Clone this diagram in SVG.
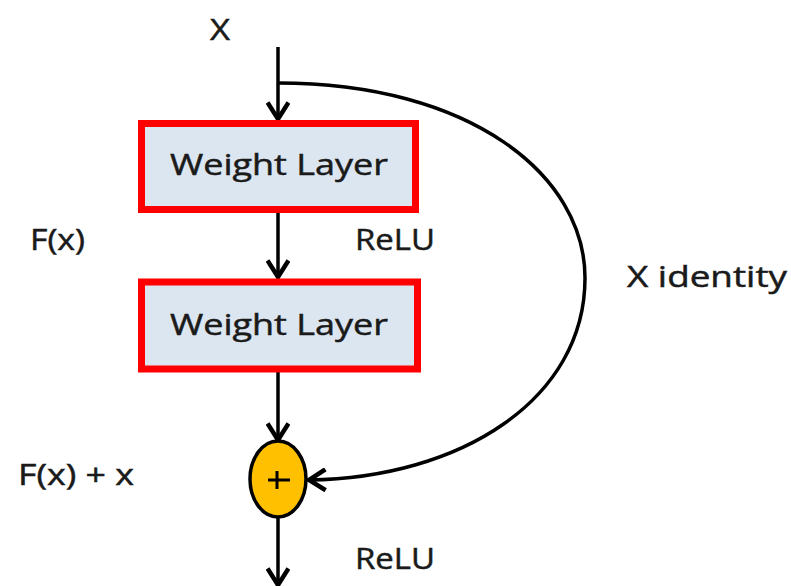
<svg xmlns="http://www.w3.org/2000/svg" width="791" height="586" viewBox="0 0 791 586">
  <defs>
    <marker id="arr" markerUnits="userSpaceOnUse" markerWidth="24" markerHeight="24" refX="12" refY="8" orient="auto" viewBox="0 0 14 16">
      <path d="M1,1 L12,8 L1,15" fill="none" stroke="#000" stroke-width="3" stroke-linejoin="miter"/>
    </marker>
  </defs>
  <style>
    text { font-family: "Open Sans", "Liberation Sans", sans-serif; fill: #1a1a1a; stroke: #1a1a1a; stroke-width: 0.5; font-size: 30px; }
    .box { fill: #dce6f1; stroke: #ff0000; stroke-width: 7; }
    .con { fill: none; stroke: #000; stroke-width: 3.5; }
  </style>
  <rect width="791" height="586" fill="#fff"/>

  <g id="connectors">
    <line class="con" x1="278" y1="47" x2="278" y2="119" marker-end="url(#arr)"/>
    <line class="con" x1="278" y1="213" x2="278" y2="277" marker-end="url(#arr)"/>
    <line class="con" x1="278" y1="372" x2="278" y2="440" marker-end="url(#arr)"/>
    <line class="con" x1="278" y1="517" x2="278" y2="585" marker-end="url(#arr)"/>
    <path class="con" d="M278,83 C470,83 585,175 585,278 C585,400 460,478 309,480" marker-end="url(#arr)"/>
  </g>

  <g id="input-label">
    <text x="220" y="40" text-anchor="middle" textLength="20" lengthAdjust="spacingAndGlyphs">X</text>
  </g>

  <g id="weight-layer-1">
    <rect class="box" x="141.5" y="123.5" width="274" height="86"/>
    <text x="170" y="175" textLength="218" lengthAdjust="spacingAndGlyphs">Weight Layer</text>
  </g>

  <g id="weight-layer-2">
    <rect class="box" x="141.5" y="282" width="276" height="87"/>
    <text x="170" y="335" textLength="218" lengthAdjust="spacingAndGlyphs">Weight Layer</text>
  </g>

  <g id="adder">
    <ellipse cx="278" cy="479" rx="28" ry="38" fill="#ffc000" stroke="#000" stroke-width="3.5"/>
    <line x1="268" y1="480" x2="290" y2="480" stroke="#000" stroke-width="3"/>
    <line x1="277" y1="471" x2="277" y2="489" stroke="#000" stroke-width="3"/>
  </g>

  <g id="labels">
    <text x="30" y="250" textLength="55" lengthAdjust="spacingAndGlyphs">F(x)</text>
    <text x="355" y="250" textLength="80" lengthAdjust="spacingAndGlyphs">ReLU</text>
    <text x="627" y="287" textLength="160" lengthAdjust="spacingAndGlyphs">X identity</text>
    <text x="18" y="485" textLength="116" lengthAdjust="spacingAndGlyphs">F(x) + x</text>
    <text x="355" y="569" textLength="80" lengthAdjust="spacingAndGlyphs">ReLU</text>
  </g>
</svg>
